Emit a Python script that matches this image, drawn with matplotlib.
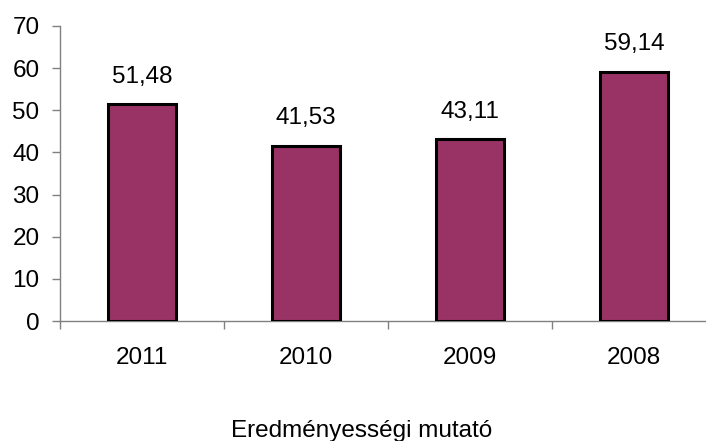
import matplotlib
matplotlib.use("Agg")
import matplotlib.pyplot as plt

categories = ["2011", "2010", "2009", "2008"]
values = [51.48, 41.53, 43.11, 59.14]
value_labels = ["51,48", "41,53", "43,11", "59,14"]
y_ticks = [0, 10, 20, 30, 40, 50, 60, 70]
x_label = "Eredményességi mutató"

plt.rcParams['font.family'] = ['Liberation Sans', 'DejaVu Sans']
FS = 17.5

W, H = 706, 441
fig = plt.figure(figsize=(W / 100, H / 100), dpi=100)
ax = fig.add_axes([60 / W, 120 / H, 656 / W, 295 / H])

x = list(range(len(categories)))
ax.bar(x, values, width=0.41, color="#993366", edgecolor="black", linewidth=2.2, zorder=3)
for xi, v, lab in zip(x, values, value_labels):
    ax.annotate(lab, (xi, v), xytext=(0, 15.5), textcoords="offset points",
                ha="center", va="baseline", fontsize=FS, color="black")

ax.set_xlim(-0.5, len(categories) - 0.5)
ax.set_ylim(0, 70)
ax.set_yticks(y_ticks)
ax.set_yticklabels([str(t) for t in y_ticks], fontsize=FS)

ax.set_xticks([i - 0.5 for i in range(len(categories) + 1)])
ax.set_xticklabels([])
ax.set_xticks(x, minor=True)
ax.set_xticklabels(categories, minor=True, fontsize=FS)
ax.tick_params(axis="x", which="minor", length=0, pad=19)
ax.tick_params(axis="x", which="major", length=5.5, width=1, color="#808080", direction="out")
ax.tick_params(axis="y", length=5.8, width=1, color="#808080", direction="out", pad=9)

for s in ["top", "right"]:
    ax.spines[s].set_visible(False)
for s in ["left", "bottom"]:
    ax.spines[s].set_color("#808080")
    ax.spines[s].set_linewidth(1)

fig.text(362 / W, 1 - 437 / H, x_label, ha="center", va="baseline", fontsize=FS)

fig.savefig("out.png", dpi=100)
